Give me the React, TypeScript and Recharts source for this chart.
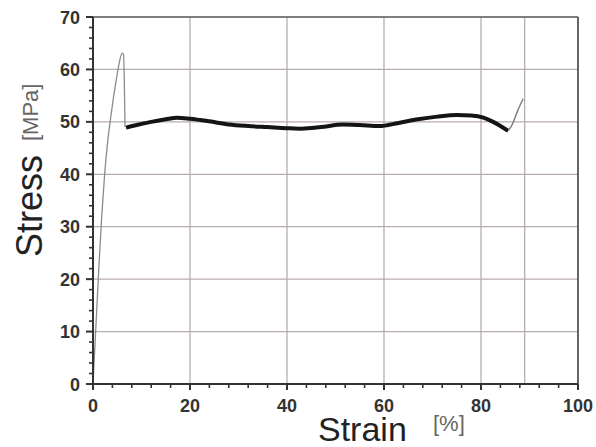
import { LineChart, Line, XAxis, YAxis, CartesianGrid, ReferenceLine, Label } from 'recharts';

// loading branch up to the yield peak and the drop
const loadStrain = [0, 0.6, 1.2, 1.8, 2.4, 3.0, 3.6, 4.2, 4.8, 5.4, 6.0, 6.3, 6.6];
const loadStress = [0, 11, 22, 32, 40, 46, 50.5, 54.5, 58, 61.2, 63.1, 62.8, 49];

// plateau (necking / cold drawing)
const drawStrain = [6.8, 9, 12, 15, 17.3, 20, 24, 28, 32, 36, 40, 43, 47, 51.5, 55, 59, 63, 67, 71, 75, 78, 80.5, 82.5, 84, 85.6];
const drawStress = [48.9, 49.4, 50.0, 50.5, 50.8, 50.6, 50.1, 49.5, 49.2, 49.0, 48.8, 48.7, 49.0, 49.5, 49.4, 49.2, 49.8, 50.5, 51.0, 51.3, 51.2, 50.8, 50.0, 49.2, 48.3];

// strain hardening up to break
const hardStrain = [85.6, 86.5, 87.5, 88.7];
const hardStress = [48.3, 49.6, 52.0, 54.4];

const breakStrain = 89;

const xMajorTicks = [0, 20, 40, 60, 80, 100];
const xMinorTicks = [4, 8, 12, 16, 24, 28, 32, 36, 44, 48, 52, 56, 64, 68, 72, 76, 84, 88, 92, 96];
const yMajorTicks = [0, 10, 20, 30, 40, 50, 60, 70];
const yMinorTicks = [2, 4, 6, 8, 12, 14, 16, 18, 22, 24, 26, 28, 32, 34, 36, 38, 42, 44, 46, 48, 52, 54, 56, 58, 62, 64, 66, 68];

const toRows = (xs: number[], ys: number[]) => xs.map((strain, i) => ({ strain, stress: ys[i] }));

const loadRows = toRows(loadStrain, loadStress);
const drawRows = toRows(drawStrain, drawStress);
const hardRows = toRows(hardStrain, hardStress);

const FONT = '"Liberation Sans", Arial, sans-serif';
const AXIS = '#333';
const GRID = '#b8adab';

function XTick(props: any) {
  const { x, y, payload } = props;
  const major = xMajorTicks.includes(payload.value);
  return (
    <g>
      <line x1={x} x2={x} y1={y} y2={y + (major ? 6 : 4)} stroke={AXIS} strokeWidth={major ? 2 : 1.6} />
      {major && (
        <text x={x} y={y + 28} textAnchor="middle" fontFamily={FONT} fontWeight="bold" fontSize={18} fill="#333">
          {payload.value}
        </text>
      )}
    </g>
  );
}

function YTick(props: any) {
  const { x, y, payload } = props;
  const major = yMajorTicks.includes(payload.value);
  return (
    <g>
      <line x1={x - (major ? 7 : 4)} x2={x} y1={y} y2={y} stroke={AXIS} strokeWidth={major ? 2 : 1.6} />
      {major && (
        <text x={x - 13} y={y + 6.5} textAnchor="end" fontFamily={FONT} fontWeight="bold" fontSize={18} fill="#333">
          {payload.value}
        </text>
      )}
    </g>
  );
}

const xTitle = () => (
  <g fontFamily={FONT}>
    <text x={318} y={441} fontSize={34} fill="#222">Strain</text>
    <text x={433} y={431} fontSize={22} fill="#666">[%]</text>
  </g>
);

const yTitle = () => (
  <g fontFamily={FONT}>
    <text x={42} y={257} transform="rotate(-90, 42, 257)" fontSize={36} fill="#222">Stress</text>
    <text x={38} y={141} transform="rotate(-90, 38, 141)" fontSize={22} fill="#666">[MPa]</text>
  </g>
);

export default function App() {
  const xTicks = [...xMajorTicks, ...xMinorTicks].sort((a, b) => a - b);
  const yTicks = [...yMajorTicks, ...yMinorTicks].sort((a, b) => a - b);
  return (
    <div style={{ position: 'absolute', left: 0, top: 0, background: '#fff' }}>
      <LineChart width={596} height={447} margin={{ top: 17, right: 18, left: 0, bottom: 0 }}>
        <CartesianGrid
          stroke={GRID}
          strokeWidth={1.3}
          horizontalValues={[10, 20, 30, 40, 50, 60]}
          verticalValues={[20, 40, 60, 80, breakStrain]}
        />
        <XAxis
          dataKey="strain"
          type="number"
          domain={[0, 100]}
          ticks={xTicks}
          interval={0}
          height={63}
          tickSize={0}
          tickMargin={0}
          tickLine={false}
          tick={<XTick />}
          axisLine={{ stroke: AXIS, strokeWidth: 2 }}
        >
          <Label content={xTitle} />
        </XAxis>
        <YAxis
          type="number"
          domain={[0, 70]}
          ticks={yTicks}
          interval={0}
          width={93}
          tickSize={0}
          tickMargin={0}
          tickLine={false}
          tick={<YTick />}
          axisLine={{ stroke: AXIS, strokeWidth: 2 }}
        >
          <Label content={yTitle} />
        </YAxis>
        <ReferenceLine y={70} stroke="#555" strokeWidth={1.6} />
        <ReferenceLine x={100} stroke="#555" strokeWidth={1.8} />
        <Line data={loadRows} dataKey="stress" type="monotone" stroke="#8a8a8a" strokeWidth={1.3} dot={false} isAnimationActive={false} />
        <Line data={drawRows} dataKey="stress" type="monotone" stroke="#141414" strokeWidth={4} dot={false} isAnimationActive={false} />
        <Line data={hardRows} dataKey="stress" type="monotone" stroke="#7a7a7a" strokeWidth={1.4} dot={false} isAnimationActive={false} />
      </LineChart>
    </div>
  );
}
